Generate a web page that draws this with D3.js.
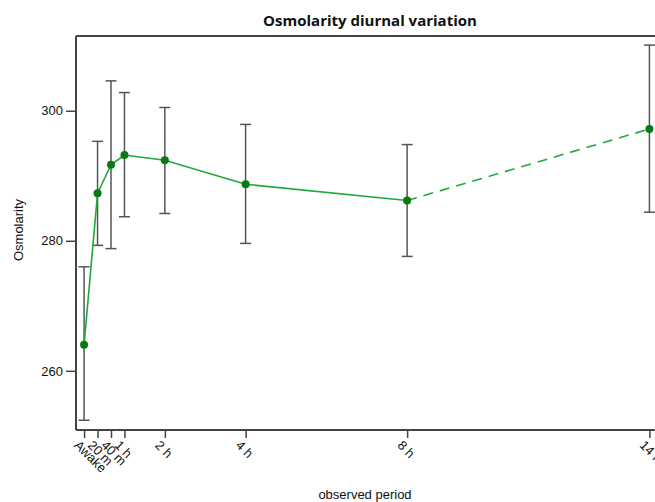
<!DOCTYPE html>
<html><head><meta charset="utf-8">
<script src="https://cdn.jsdelivr.net/npm/d3@7"></script>
<style>body{margin:0;background:#fff}svg{display:block}</style>
</head><body>
<svg id="c" width="655" height="502"></svg>
<script>
const labels = ["Awake","20 m","40 m","1 h","2 h","4 h","8 h","14 h"];
const hours = [0, 1/3, 2/3, 1, 2, 4, 8, 14];
const means = [264.0, 287.3, 291.7, 293.2, 292.4, 288.7, 286.2, 297.2];
const upper = [276.0, 295.3, 304.6, 302.8, 300.5, 297.9, 294.8, 310.1];
const lower = [252.4, 279.3, 278.8, 283.7, 284.2, 279.6, 277.6, 284.4];
const yTicks = [260, 280, 300];

const svg = d3.select("#c");
const L = 76, T = 36, B = 430, R = 657.5;
const x = d3.scaleLinear().domain([-0.2, 14.2]).range([L, R]);
const y = d3.scaleLinear().domain([250.9, 311.5]).range([B, T]);
const axisCol = "#444";
const FF = "Liberation Sans, Arial, sans-serif";

// frame top line
svg.append("line").attr("x1", L).attr("x2", 655).attr("y1", T).attr("y2", T)
  .attr("stroke", axisCol).attr("stroke-width", 2);

// y axis
const ya = svg.append("g").attr("transform", `translate(${L},0)`)
  .call(d3.axisLeft(y).tickValues(yTicks).tickSize(10).tickPadding(3).tickFormat(d3.format("d")));
ya.select(".domain").attr("stroke", axisCol).attr("stroke-width", 2).attr("d", `M0,${T}V${B}`);
ya.selectAll(".tick line").attr("stroke", axisCol).attr("stroke-width", 1.5);
ya.selectAll(".tick text").attr("font-family", FF)
  .attr("font-size", 13).attr("fill", "#111");

// x axis
const xa = svg.append("g").attr("transform", `translate(0,${B})`)
  .call(d3.axisBottom(x).tickValues(hours).tickSize(8).tickFormat((d, i) => labels[i]));
xa.select(".domain").attr("stroke", axisCol).attr("stroke-width", 2).attr("d", `M${L},0H655`);
xa.selectAll(".tick line").attr("stroke", axisCol).attr("stroke-width", 1.5);
xa.selectAll(".tick text")
  .attr("font-family", FF).attr("font-size", 13).attr("fill", "#111")
  .attr("text-anchor", "start").attr("x", 0).attr("y", 0).attr("dy", 0)
  .attr("transform", "translate(-11,16) rotate(45)");

// error bars
const eb = svg.append("g").attr("stroke", "#555").attr("stroke-width", 1.5);
hours.forEach((h, i) => {
  const cx = x(h);
  eb.append("line").attr("x1", cx).attr("x2", cx).attr("y1", y(upper[i])).attr("y2", y(lower[i]));
  eb.append("line").attr("x1", cx - 5.5).attr("x2", cx + 5.5).attr("y1", y(upper[i])).attr("y2", y(upper[i]));
  eb.append("line").attr("x1", cx - 5.5).attr("x2", cx + 5.5).attr("y1", y(lower[i])).attr("y2", y(lower[i]));
});

// lines
const pts = hours.map((h, i) => [x(h), y(means[i])]);
const line = d3.line();
svg.append("path").attr("d", line(pts.slice(0, 7))).attr("fill", "none")
  .attr("stroke", "#1fa83c").attr("stroke-width", 1.6);
svg.append("path").attr("d", line(pts.slice(6))).attr("fill", "none")
  .attr("stroke", "#1fa83c").attr("stroke-width", 1.6).attr("stroke-dasharray", "10,7");

// points
svg.append("g").selectAll("circle").data(pts).join("circle")
  .attr("cx", d => d[0]).attr("cy", d => d[1]).attr("r", 4).attr("fill", "#087a14");

// title
svg.append("text").attr("x", 370).attr("y", 26).attr("text-anchor", "middle")
  .attr("font-family", "Open Sans, sans-serif").attr("font-weight", "bold").attr("font-size", 15)
  .attr("fill", "#111").text("Osmolarity diurnal variation");

// axis titles
svg.append("text").attr("transform", "translate(23,230) rotate(-90)").attr("text-anchor", "middle")
  .attr("font-family", FF).attr("font-size", 13).attr("fill", "#111")
  .text("Osmolarity");
svg.append("text").attr("x", 365).attr("y", 499).attr("text-anchor", "middle")
  .attr("font-family", FF).attr("font-size", 13).attr("fill", "#111")
  .text("observed period");
</script>
</body></html>
